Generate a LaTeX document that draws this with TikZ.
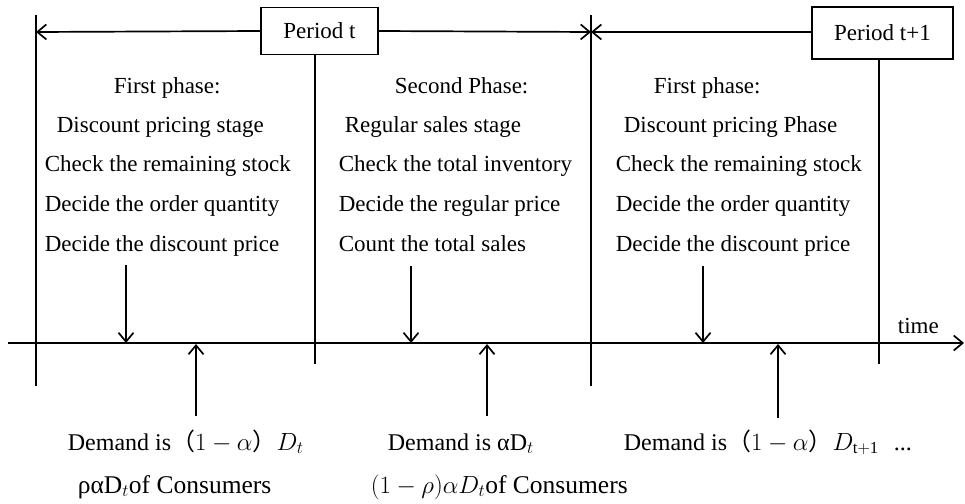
\documentclass[tikz,border=0pt]{standalone}
\usepackage{fontspec}
\setmainfont{Liberation Serif}
\newfontfamily\cjk{Noto Sans CJK SC}
\usetikzlibrary{arrows.meta}
\begin{document}
\begin{tikzpicture}[x=1pt,y=-1pt,line width=1.7pt,
  >={Straight Barb[length=9pt,width=15pt,line width=1.7pt]},
  lbl/.style={anchor=base west,inner sep=0pt,font=\fontsize{23}{27}\selectfont},
  blbl/.style={anchor=base west,inner sep=0pt,font=\fontsize{24}{28}\selectfont},
  clbl/.style={anchor=base west,inner sep=0pt,font=\fontsize{25.5}{29}\selectfont},
  pbox/.style={draw,inner sep=0pt,font=\fontsize{23}{27}\selectfont}]
\useasboundingbox (0,0) rectangle (965,503);
% period boxes
\node[pbox,minimum width=117pt,minimum height=47pt] (pt) at (319.5,31) {Period t};
\node[pbox,minimum width=141pt,minimum height=52pt] (pt1) at (882.5,33) {Period t+1};
% vertical lines
\coordinate (v0top) at (36,15);   \coordinate (v0bot) at (36,386);
\coordinate (v2top) at (591,15);  \coordinate (v2bot) at (591,386);
\coordinate (v1bot) at (315,364);
\coordinate (v3bot) at (879,364);
\coordinate (v0mid) at (36,32);   \coordinate (v2mid) at (591,32);
\draw (v0top) -- (v0bot);
\draw (v2top) -- (v2bot);
\draw (pt.south -| v1bot) -- (v1bot);
\draw (pt1.south -| v3bot) -- (v3bot);
% top span arrows
\draw[->] (pt.west) -- (v0mid);
\draw[->] (pt.east) -- (v2mid);
\draw[->] (pt1.west |- v2mid) -- (v2mid);
% time axis
\coordinate (ax0) at (8,343); \coordinate (ax1) at (964,343);
\draw[->] (ax0) -- (ax1);
\node[lbl] (time) at (897,333) {time};
% down arrows
\coordinate (d1t) at (126,265); \coordinate (d1b) at (126,343);
\coordinate (d2t) at (411,266); \coordinate (d2b) at (411,343);
\coordinate (d3t) at (703,266); \coordinate (d3b) at (703,343);
\draw[->] (d1t) -- (d1b);
\draw[->] (d2t) -- (d2b);
\draw[->] (d3t) -- (d3b);
% up arrows
\coordinate (u1t) at (196,344); \coordinate (u1b) at (196,416);
\coordinate (u2t) at (487,344); \coordinate (u2b) at (487,416);
\coordinate (u3t) at (778,344); \coordinate (u3b) at (778,418);
\draw[->] (u1b) -- (u1t);
\draw[->] (u2b) -- (u2t);
\draw[->] (u3b) -- (u3t);
% column 1
\node[lbl] (a1) at (113,93) {First phase:};
\node[lbl] (a2) at (56,132) {Discount pricing stage};
\node[lbl] (a3) at (44,171) {Check the remaining stock};
\node[lbl] (a4) at (44,211) {Decide the order quantity};
\node[lbl] (a5) at (44,251) {Decide the discount price};
% column 2
\node[lbl] (b1) at (394,93) {Second Phase:};
\node[lbl] (b2) at (344,132) {Regular sales stage};
\node[lbl] (b3) at (338,171) {Check the total inventory};
\node[lbl] (b4) at (338,211) {Decide the regular price};
\node[lbl] (b5) at (338,251) {Count the total sales};
% column 3
\node[lbl] (c1) at (653,93) {First phase:};
\node[lbl] (c2) at (623,132) {Discount pricing Phase};
\node[lbl] (c3) at (615,171) {Check the remaining stock};
\node[lbl] (c4) at (615,211) {Decide the order quantity};
\node[lbl] (c5) at (615,251) {Decide the discount price};
% bottom texts
\node[blbl] (e1) at (67,450) {Demand is{\cjk （}$1-\alpha${\cjk ）}$D_t$};
\node[blbl] (e2) at (387,450) {Demand is αD$_t$};
\node[blbl] (e3) at (623,450) {Demand is{\cjk （}$1-\alpha${\cjk ）}$D_{\mathrm{t+1}}$};
\node[blbl] (e4) at (893,450) {...};
\node[clbl] (f1) at (77,493) {ραD$_t$of Consumers};
\node[clbl] (f2) at (370,493) {$(1-\rho)\alpha D_t$of Consumers};
\end{tikzpicture}
\end{document}
